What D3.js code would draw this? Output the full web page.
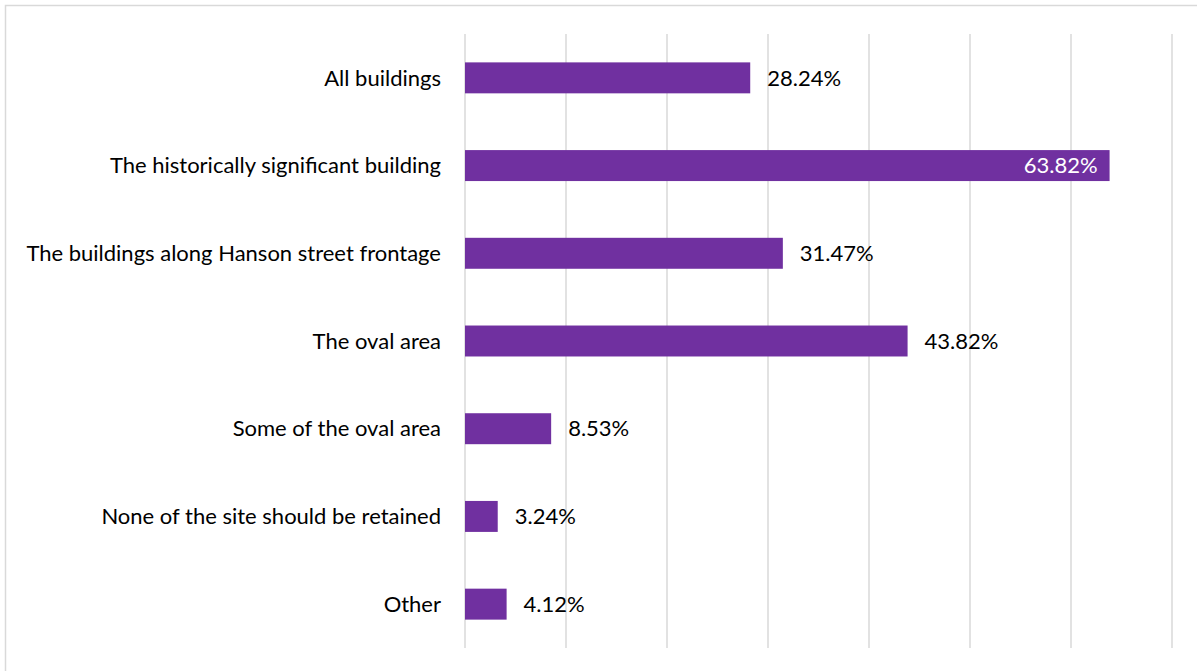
<!DOCTYPE html>
<html><head><meta charset="utf-8">
<script src="https://cdn.jsdelivr.net/npm/d3@7"></script>
<style>body{margin:0;background:#fff}svg{display:block}</style>
</head><body>
<svg id="c" width="1197" height="671"></svg>
<script>
const categories = ["All buildings","The historically significant building","The buildings along Hanson street frontage","The oval area","Some of the oval area","None of the site should be retained","Other"];
const values = [28.24,63.82,31.47,43.82,8.53,3.24,4.12];
const ticks = [0,10,20,30,40,50,60,70];

const svg = d3.select("#c");
const font = "Lato, 'Open Sans', sans-serif";
svg.append("rect").attr("x",5.5).attr("y",5.5).attr("width",1200).attr("height",700)
  .attr("fill","#fff").attr("stroke","#d9d9d9").attr("stroke-width",1.5);

const x = d3.scaleLinear().domain([0,70]).range([465,1172]);
const y = d3.scaleBand().domain(categories).range([34,648]).paddingInner(0.647).paddingOuter(0.3235);

svg.append("g").selectAll("line").data(ticks).join("line")
  .attr("x1",d=>x(d)).attr("x2",d=>x(d)).attr("y1",34).attr("y2",648)
  .attr("stroke","#d9d9d9").attr("stroke-width",1.5);

svg.append("g").selectAll("rect").data(values).join("rect")
  .attr("x",x(0)).attr("y",(d,i)=>y(categories[i]))
  .attr("width",d=>x(d)-x(0)).attr("height",y.bandwidth())
  .attr("fill","#7030A0");

svg.append("g").selectAll("text").data(categories).join("text")
  .attr("x",441).attr("y",d=>y(d)+y.bandwidth()/2).attr("dy","0.35em")
  .attr("text-anchor","end").attr("font-family",font).attr("font-size",22)
  .attr("fill","#000").text(d=>d);

svg.append("g").selectAll("text").data(values).join("text")
  .attr("x",d=> d>60 ? x(d)-12 : x(d)+17)
  .attr("y",(d,i)=>y(categories[i])+y.bandwidth()/2).attr("dy","0.35em")
  .attr("text-anchor",d=> d>60 ? "end":"start")
  .attr("font-family",font).attr("font-size",22)
  .attr("fill",d=> d>60 ? "#fff":"#000").text(d=>d.toFixed(2)+"%");
</script>
</body></html>
